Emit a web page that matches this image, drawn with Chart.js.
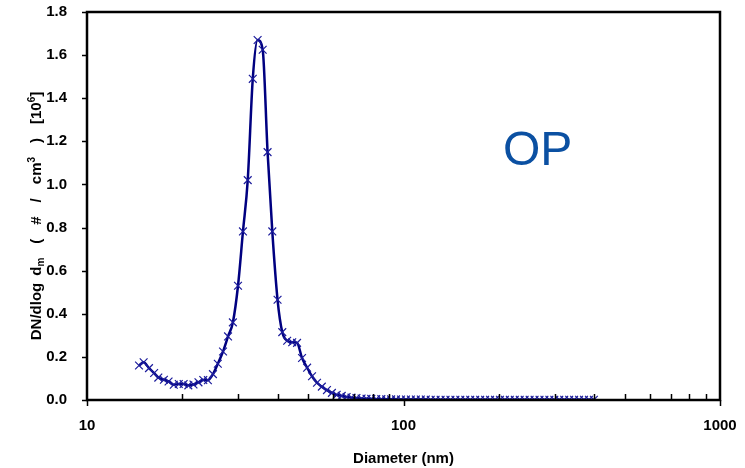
<!DOCTYPE html>
<html>
<head>
<meta charset="utf-8">
<script src="https://cdn.jsdelivr.net/npm/chart.js@4/dist/chart.umd.min.js"></script>
<style>
html,body{margin:0;padding:0;background:#fff;}
#wrap{width:745px;height:468px;position:relative;}
</style>
</head>
<body>
<div id="wrap"><canvas id="c" width="745" height="468"></canvas></div>
<script>
// Diameter channels (nm)
const diameters = [14.6,15.1,15.7,16.3,16.8,17.5,18.1,18.8,19.5,20.2,20.9,21.7,22.5,23.3,24.1,25.0,25.9,26.9,27.9,28.9,
  30.0,31.1,32.2,33.4,34.6,35.9,37.2,38.5,40.0,41.4,42.9,44.5,46.1,47.8,49.6,51.4,53.3,55.2,57.3,59.4,
  61.5,63.8,66.1,68.5,71.0,73.7,76.4,79.1,82.0,85.1,88.2,91.4,94.7,98.2,101.8,105.5,109.4,113.4,117.6,121.9,
  126.3,131.0,135.8,140.7,145.9,151.2,156.8,162.5,168.5,174.7,181.1,187.7,194.6,201.7,209.1,216.7,224.7,232.9,241.4,250.3,
  259.5,269.0,278.8,289.0,299.6,310.6,322.0,333.8,346.0,358.7,371.8,385.4,399.5];
// DN/dlog dm (10^6 #/cm3)
const dnValues = [0.160,0.175,0.148,0.125,0.104,0.094,0.086,0.071,0.074,0.074,0.068,0.072,0.082,0.093,0.092,0.120,0.168,0.225,0.295,0.360,
  0.530,0.782,1.020,1.490,1.670,1.625,1.150,0.782,0.465,0.315,0.275,0.268,0.265,0.195,0.150,0.110,0.080,0.062,0.046,0.033,
  0.024,0.019,0.014,0.011,0.009,0.007,0.006,0.005,0.004,0.004,0.003,0.003,0.003,0.002,0.002,0.002,0.002,0.002,0.002,0.001,
  0.001,0.001,0.001,0.001,0.001,0.001,0.001,0.001,0.001,0.001,0.001,0.001,0.001,0.001,0.001,0.001,0.001,0.001,0.001,0.001,
  0.001,0.001,0.001,0.001,0.001,0.001,0.001,0.001,0.001,0.001,0.001,0.001,0.001];
const xTickLabels = [10, 100, 1000];
const xMinorTicks = [20,30,40,50,60,70,80,90,200,300,400,500,600,700,800,900];
const yTickLabels = [0.0,0.2,0.4,0.6,0.8,1.0,1.2,1.4,1.6,1.8];
const sampleLabel = 'OP';

const FONT = "'Liberation Sans', Arial, sans-serif";

const framePlugin = {
  id: 'frame',
  afterDraw(chart) {
    const ctx = chart.ctx, a = chart.chartArea;
    const xs = chart.scales.x, ys = chart.scales.y;
    ctx.save();
    ctx.strokeStyle = '#000';
    ctx.lineWidth = 1.5;
    yTickLabels.forEach(v => {
      const y = Math.round(ys.getPixelForValue(v)) + 0.5;
      ctx.beginPath(); ctx.moveTo(a.left - 5, y); ctx.lineTo(a.left, y); ctx.stroke();
    });
    xMinorTicks.forEach(v => {
      const x = Math.round(xs.getPixelForValue(v)) + 0.5;
      ctx.beginPath(); ctx.moveTo(x, a.bottom); ctx.lineTo(x, a.bottom - 6); ctx.stroke();
    });
    xTickLabels.forEach(v => {
      const x = Math.round(xs.getPixelForValue(v)) + 0.5;
      ctx.beginPath(); ctx.moveTo(x, a.bottom); ctx.lineTo(x, a.bottom + 6); ctx.stroke();
    });
    ctx.lineWidth = 2.5;
    ctx.strokeRect(a.left, a.top, a.right - a.left, a.bottom - a.top);

    ctx.fillStyle = '#0b50a2';
    ctx.font = "48px " + FONT;
    ctx.textAlign = 'left';
    ctx.textBaseline = 'alphabetic';
    ctx.fillText(sampleLabel, 503, 165);

    // Y axis title with sub/superscripts (g = extra spacing after part)
    const GAP = 14;
    const parts = [
      {t: 'DN/dlog', s: 15, dy: 0, g: GAP * 0.5},
      {t: 'd', s: 15, dy: 0, g: 0},
      {t: 'm', s: 10, dy: 3, g: GAP},
      {t: '(', s: 15, dy: 0, g: GAP},
      {t: '#', s: 15, dy: 0, g: GAP},
      {t: '/', s: 15, dy: 0, g: GAP},
      {t: 'cm', s: 15, dy: 0, g: 0},
      {t: '3', s: 10, dy: -6, g: GAP},
      {t: ')', s: 15, dy: 0, g: GAP},
      {t: '[10', s: 15, dy: 0, g: 0},
      {t: '6', s: 10, dy: -6, g: 0},
      {t: ']', s: 15, dy: 0, g: 0}
    ];
    ctx.fillStyle = '#000';
    let total = 0;
    parts.forEach(p => { ctx.font = 'bold ' + p.s + 'px ' + FONT; p.w = ctx.measureText(p.t).width; total += p.w + p.g; });
    ctx.translate(41, 216);
    ctx.rotate(-Math.PI / 2);
    let x = -total / 2;
    parts.forEach(p => {
      ctx.font = 'bold ' + p.s + 'px ' + FONT;
      ctx.fillText(p.t, x, p.dy);
      x += p.w + p.g;
    });
    ctx.restore();
  }
};

new Chart(document.getElementById('c'), {
  type: 'line',
  data: {
    datasets: [{
      data: diameters.map((d, i) => ({x: d, y: dnValues[i]})),
      borderColor: '#000080',
      borderWidth: 2.5,
      pointStyle: 'crossRot',
      pointRadius: 5.5,
      pointBorderWidth: 1.2,
      pointBorderColor: '#1c1c9c',
      pointBackgroundColor: '#1c1c9c',
      cubicInterpolationMode: 'monotone',
      fill: false
    }]
  },
  options: {
    responsive: false,
    animation: false,
    layout: {padding: {left: 0, right: 25, top: 12, bottom: 0}},
    plugins: {legend: {display: false}, tooltip: {enabled: false}},
    scales: {
      x: {
        type: 'logarithmic',
        min: 10, max: 1000,
        afterBuildTicks: s => { s.ticks = xTickLabels.map(v => ({value: v})); },
        afterFit: s => { s.height = 68; s.paddingLeft = 0; s.paddingRight = 0; },
        grid: {display: false},
        border: {display: false},
        ticks: {
          color: '#000', font: {family: FONT, size: 15, weight: 'bold'},
          padding: 9, maxRotation: 0, autoSkip: false,
          callback: v => String(v)
        },
        title: {display: true, text: 'Diameter (nm)', color: '#000', font: {family: FONT, size: 15, weight: 'bold'}, padding: {top: 31, bottom: 0}}
      },
      y: {
        min: 0, max: 1.8,
        afterBuildTicks: s => { s.ticks = yTickLabels.map(v => ({value: v})); },
        afterFit: s => { s.width = 87; s.paddingTop = 0; s.paddingBottom = 0; },
        grid: {display: false},
        border: {display: false},
        ticks: {
          color: '#000', font: {family: FONT, size: 15, weight: 'bold'},
          padding: 12,
          callback: v => Number(v).toFixed(1)
        }
      }
    }
  },
  plugins: [framePlugin]
});
</script>
</body>
</html>
